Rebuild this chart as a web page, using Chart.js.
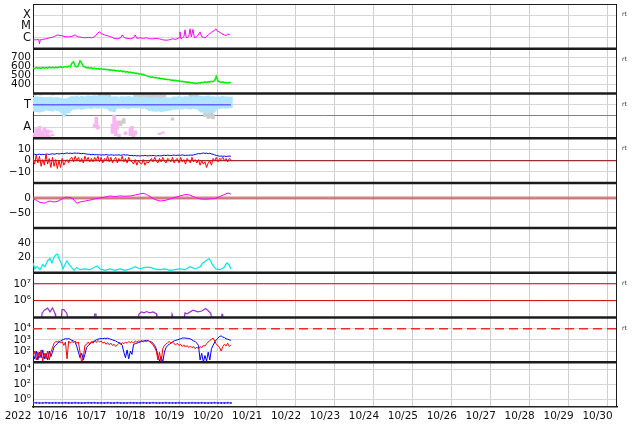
<!DOCTYPE html>
<html><head><meta charset="utf-8">
<script src="https://cdn.jsdelivr.net/npm/chart.js@4"></script>
<style>html,body{margin:0;padding:0;background:#fff}canvas{display:block}</style>
</head><body>
<canvas id="c" width="634" height="424" style="width:634px;height:424px"></canvas>
<script>
// ---------- categories / tick labels ----------
const dayLabels = ['10/16','10/17','10/18','10/19','10/20','10/21','10/22','10/23','10/24','10/25','10/26','10/27','10/28','10/29','10/30'];
const yearLabel = '2022';
const panelTags = ['rt','rt','rt','rt','','','rt','rt',''];

// ---------- panel 1: X-ray flux (log10) ----------
const xrayHours = [0,2,3.5,4,4.5,6,8,10,12,14,
 15,16,18,20,22,24,26,27,28,30,
 32,34,36,38,40,41,42,44,46,48,
 50,52,54,55,56,58,60,62,63,64,
 66,68,70,72,74,76,78,80,82,84,
 86,88,90,90.6,91.3,93,93.7,94.5,96,96.8,
 97.6,98.6,99.5,101,103,104,106,108,110,111.5,
 112.8,113.5,114.7,116.5,118,119,120,121.4];
const xrayLog = [-6.20,-6.20,-6.16,-6.56,-6.20,-6.16,-6.11,-6.02,-5.98,-5.84,
 -5.76,-5.80,-5.84,-5.93,-5.93,-5.89,-5.76,-5.89,-5.93,-5.98,
 -6.02,-5.98,-6.02,-5.93,-5.58,-5.49,-5.62,-5.76,-5.84,-5.93,
 -6.07,-6.11,-6.02,-5.76,-5.98,-6.07,-6.11,-6.02,-5.76,-6.07,
 -6.02,-6.07,-6.02,-6.11,-6.11,-6.07,-6.11,-6.20,-6.24,-6.20,
 -6.11,-6.16,-6.02,-5.49,-6.11,-5.93,-5.31,-6.02,-5.93,-5.22,
 -5.93,-5.27,-6.02,-5.93,-5.49,-5.93,-6.02,-5.76,-5.53,-5.40,
 -5.22,-5.40,-5.49,-5.67,-5.76,-5.84,-5.67,-5.76];

// ---------- panel 2: solar wind speed (hourly) ----------
const speedKms = [585,578,590,582,588,580,592,584,590,583,
 595,586,592,585,596,588,594,600,590,598,
 603,595,606,598,640,655,605,598,612,665,
 640,605,596,588,592,582,588,578,584,575,
 580,572,578,568,574,565,570,562,566,558,
 562,552,558,548,556,545,550,540,546,535,
 540,530,535,525,528,518,522,512,515,505,
 500,492,488,482,485,476,478,470,474,465,
 468,460,462,455,458,450,452,445,448,440,
 442,435,438,430,432,425,428,420,422,415,
 418,412,420,415,425,420,430,424,432,428,
 438,432,445,492,440,432,425,428,420,424,
 418,422,420];

// ---------- panel 3: T / A ----------
const tBandHi = [3.70,3.62,3.75,3.66,3.72,3.58,3.70,3.64,3.55,3.68,
 3.60,3.72,3.62,3.58,3.70,3.65,3.55,3.62,3.50,3.58,
 3.45,3.55,3.62,3.70,3.76,3.68,3.74,3.80,3.70,3.66,
 3.78,3.72,3.68,3.75,3.82,3.74,3.80,3.78,3.84,3.72,
 3.80,3.76,3.70,3.82,3.74,3.78,3.70,3.72,3.66,3.74,
 3.68,3.76,3.70,3.64,3.72,3.76,3.68,3.74,3.70,3.78,
 3.66,3.72,3.70,3.64,3.74,3.68,3.62,3.70,3.66,3.72,
 3.60,3.68,3.62,3.56,3.64,3.58,3.66,3.60,3.55,3.62,
 3.58,3.66,3.60,3.64,3.56,3.62,3.68,3.74,3.66,3.72,
 3.78,3.70,3.64,3.72,3.76,3.68,3.74,3.70,3.62,3.76,
 3.72,3.66,3.74,3.80,3.72,3.76,3.70,3.78,3.82,3.74,
 3.70,3.76,3.68,3.72,3.66,3.74,3.70,3.78,3.72,3.68,
 3.74,3.70,3.72];
const tBandLo = [2.40,2.50,2.35,2.45,2.30,2.42,2.38,2.55,2.48,2.60,
 2.45,2.52,2.40,2.58,2.50,2.44,2.56,2.36,2.20,1.95,
 2.10,2.30,2.25,2.45,2.60,2.55,2.68,2.58,2.62,2.70,
 2.56,2.64,2.60,2.72,2.66,2.70,2.62,2.74,2.68,2.76,
 2.64,2.72,2.70,2.66,2.74,2.62,2.70,2.50,2.40,2.55,
 2.35,2.60,2.68,2.72,2.64,2.70,2.74,2.66,2.72,2.62,
 2.70,2.76,2.68,2.72,2.66,2.74,2.70,2.62,2.68,2.72,
 2.60,2.55,2.45,2.52,2.40,2.48,2.38,2.50,2.44,2.36,
 2.46,2.40,2.52,2.45,2.55,2.48,2.58,2.62,2.55,2.66,
 2.60,2.68,2.58,2.64,2.70,2.62,2.66,2.58,2.64,2.70,
 2.60,2.66,2.55,2.40,2.30,2.42,2.25,2.35,2.20,2.30,
 2.45,2.28,2.38,2.55,2.68,2.62,2.72,2.66,2.70,2.64,
 2.72,2.68,2.70];
const tLineHours = [0,122];
const tLineValue = [3,3];
const grayHours = [0,1,2,4,5,6,8,10,12,41,43,45,47,54,56,63,65,67,69,71,73,75,77,79,81,86,97,99,101,106,108,110,111];
const grayLo = [0.05,3.82,0.05,0.10,3.85,0.05,0.05,0.10,3.85,3.50,3.40,3.50,3.45,1.10,1.30,3.60,3.55,3.60,3.50,3.55,3.60,3.50,3.55,3.60,3.50,1.60,3.30,3.40,3.50,1.90,1.75,1.80,1.70];
const grayHi = [0.35,3.98,0.25,0.30,3.98,0.30,0.20,0.30,3.98,3.95,3.92,3.95,3.90,1.60,1.80,3.95,3.92,3.96,3.93,3.95,3.92,3.95,3.90,3.95,3.92,1.85,3.95,3.92,3.95,2.50,2.40,2.60,2.20];
const pinkHours = [1,2,3,4,5,6,7,8,9,10,11,12,38,39,40,49,50,51,52,53,57,60,61,62,63,78,80];
const pinkLo = [0.10,0.20,0.10,0.30,0.10,0.20,0.40,0.10,0.20,0.10,0.50,0.20,0.90,1.00,0.80,0.40,0.60,0.20,0.80,0.10,0.30,0.20,0.50,0.10,0.30,0.30,0.40];
const pinkHi = [0.50,0.90,0.60,1.10,0.70,0.50,1.00,0.40,0.80,0.30,0.70,0.40,1.30,1.90,1.20,1.30,2.10,0.90,1.60,0.40,0.60,0.90,1.10,0.50,0.70,0.50,0.60];

// ---------- panel 4: Bt / Bz (hourly, nT) ----------
const btNt = [5.5,5.8,5.3,5.6,5.9,5.4,5.7,5.5,5.8,6.0,5.6,5.9,6.2,5.8,6.1,6.4,6.0,6.3,6.5,6.2,
 6.6,6.9,6.5,6.8,6.4,6.7,6.9,6.6,6.8,6.5,6.3,6.6,6.2,6.0,5.8,5.6,5.4,5.7,5.3,5.5,
 5.2,5.4,5.0,5.3,5.1,5.5,5.2,5.0,5.3,5.1,4.9,5.2,5.0,5.3,4.8,5.1,5.4,5.0,5.2,4.9,
 4.6,4.8,4.4,4.7,4.3,4.5,4.2,4.6,4.4,4.8,4.5,4.3,4.6,4.4,4.7,4.5,4.2,4.6,4.4,4.3,
 4.7,4.9,4.6,5.0,4.8,4.5,4.9,5.1,4.7,4.9,5.0,4.8,5.2,4.9,4.7,5.0,4.8,5.1,4.9,5.2,
 5.6,6.0,6.4,6.2,6.6,6.9,6.5,6.8,6.3,6.7,6.1,5.8,5.2,4.8,4.4,4.0,4.2,3.9,4.1,3.8,
 4.0,4.2,3.9];
const bzNt = [2,-3,5,-2,4,-5,1,-4,6,-3,2,-6,3,
 -5,1,-7,0,-6,2,-4,-1,
 1,-2,2,
 3,-1,4,0,3,-1,2,-2,4,0,3,-1,2,-1,3,
 0,4,-1,3,-2,2,0,4,-1,3,-2,1,3,-2,2,0,4,-1,2,-2,3,0,
 -1,-3,1,-4,0,-2,-3,1,-4,-1,-2,0,
 2,-1,3,0,-2,2,-1,3,0,-2,2,1,-1,3,-2,1,
 2,-2,3,-1,1,-3,2,0,-2,3,-1,1,
 -2,1,-4,0,-3,-1,-6,-2,0,-4,
 2,0,3,-1,2,1,3,0,2,-1,2,1];
const bzZero = [0];

// ---------- panel 5 ----------
const dstHours = [0,2,4.3,7.4,9,10.5,12.3,14.8,18,20,
 22.8,24.7,27,29,32,35,38,41,44,47.5,
 50.5,53.6,56.7,60,63,66,67.8,70,72.7,75.2,
 78.3,81.4,84.5,87.5,90.6,94.3,96.8,100,103,106,
 109,112,115.3,118.4,120.2,122];
const dstNt = [-4,-7,-15,-17,-12,-10,-13,-12,-3,3,
 2,-3,-18,-13,-10,-7,-3,0,3,7,
 5,7,6,7,10,14,16,12,3,-5,
 -10,-8,-3,2,7,12,10,2,-3,-4,
 -3,-2,5,13,17,13];
const dstZero = [0];

// ---------- panel 6 ----------
const cyanHours = [0,1.2,2.5,4.3,6,7.4,9,10.5,11.7,13,
 14.2,15.1,16,17.3,18.5,19.7,21,22.2,23.4,25.3,
 27,29,32,35,37.6,39.5,41.3,44.4,47.5,50.5,
 53.6,56.7,60,63,66,69,72,75,78.3,81.4,
 84.5,87.5,90.6,93.7,96.8,100,103,104.8,106.6,108.5,
 109.7,111,112.8,115.3,117.7,119.6,120.8,122];
const cyanValues = [13,5,8,4,11,8,16,19,13,21,
 24,25,19,13,5,11,16,11,8,3,
 7,4,5,4,7,9,5,3,5,3,
 5,3,5,8,5,7,7,5,4,5,
 3,4,5,4,8,5,8,13,16,19,
 15,9,5,4,7,13,11,5];

// ---------- panel 7: electrons (log10) ----------
const elecHours = [5,5.5,7,9,10.5,12,13.6,14,
 17.5,17.9,19,20.9,21.3,
 37.8,38,38.8,39,
 65,65.4,67,68.5,70,72,74,76,76.4,
 85.5,85.7,86.2,86.4,
 93.3,93.7,95,98.6,101.7,104,106.4,108,109.6,110,
 116.2,116.4,116.8,117];
const elecLog = [5.0,5.24,5.43,5.55,5.33,5.56,5.24,5.0,
 5.0,5.47,5.47,5.24,5.0,
 5.0,5.2,5.2,5.0,
 5.0,5.22,5.33,5.27,5.35,5.27,5.33,5.22,5.0,
 5.0,5.2,5.2,5.0,
 5.0,5.27,5.22,5.43,5.33,5.38,5.53,5.40,5.24,5.0,
 5.0,5.18,5.18,5.0];
const elecAlertLog = [7,6];

// ---------- panel 8: protons (log10, hourly) ----------
const protonBlueLog = [1.8,1.3,2.0,1.2,1.9,1.4,2.1,1.3,1.8,1.2,2.0,1.5,1.9,
 2.36,2.5,2.65,2.8,2.9,3.0,3.05,3.1,3.08,3.12,
 3.05,2.95,2.9,2.8,2.4,1.9,1.4,1.8,1.2,1.7,
 2.3,2.5,2.6,2.75,2.85,2.9,3.0,3.05,3.1,3.12,
 3.1,3.14,3.12,3.15,3.1,3.05,3.0,2.95,2.9,2.8,
 2.75,2.7,2.5,1.9,1.4,2.1,1.3,2.0,1.7,2.6,
 2.65,2.7,2.75,2.8,2.85,2.9,2.92,2.95,2.92,2.85,
 2.8,2.7,2.5,2.2,1.6,1.1,1.5,1.0,1.9,2.3,
 2.5,2.6,2.7,2.8,2.9,2.95,3.0,3.05,3.1,3.15,
 3.17,3.15,3.14,3.12,3.08,3.0,2.9,2.85,2.7,2.5,
 1.2,1.8,1.0,1.6,1.1,1.9,1.2,2.2,2.5,2.8,
 3.0,3.15,3.3,3.35,3.25,3.2,3.1,3.05,3.0,2.95];
const protonRedLog = [1.5,2.0,1.2,1.9,1.4,2.1,1.1,1.8,1.3,2.0,1.2,1.9,2.3,
 2.7,2.85,2.8,2.9,2.7,2.85,2.5,2.8,1.3,2.9,
 2.7,2.85,2.75,2.9,2.7,2.8,1.9,1.0,1.4,2.5,
 2.6,2.8,2.6,2.85,2.7,2.9,2.75,2.95,2.8,2.9,
 2.7,2.8,2.6,2.75,2.55,2.7,2.5,2.6,2.4,2.55,
 2.7,2.6,2.75,2.65,2.8,2.7,2.85,2.75,2.85,2.7,
 2.9,2.8,2.9,2.85,2.95,2.8,2.9,2.85,2.95,2.8,
 2.7,2.55,2.3,2.0,1.2,1.9,1.0,2.2,2.5,2.6,
 2.75,2.85,2.7,2.8,2.65,2.55,2.7,2.5,2.6,2.4,
 2.55,2.35,2.5,2.3,2.45,2.3,2.4,2.2,2.35,2.2,
 2.4,2.3,2.5,2.45,2.65,2.8,2.95,3.05,3.15,2.9,
 2.6,2.5,2.3,2.0,2.4,2.6,2.45,2.7,2.4,2.55];
const protonAlertLog = [4];

// ---------- panel 9 (log10, every 2 h) ----------
const bottomLog = [-0.45,-0.44,-0.46,-0.45,-0.43,-0.45,-0.46,-0.44,-0.45,-0.45,
 -0.44,-0.46,-0.45,-0.44,-0.45,-0.46,-0.45,-0.43,-0.45,-0.44,
 -0.46,-0.45,-0.45,-0.44,-0.46,-0.45,-0.44,-0.45,-0.46,-0.45,
 -0.44,-0.45,-0.45,-0.46,-0.44,-0.45,-0.45,-0.43,-0.45,-0.46,
 -0.45,-0.44,-0.45,-0.46,-0.45,-0.44,-0.45,-0.45,-0.46,-0.44,
 -0.45,-0.45,-0.44,-0.46,-0.45,-0.45,-0.44,-0.45,-0.46,-0.45,
 -0.44,-0.45];

// ---------- helpers ----------
const AXIS_END = dayLabels.length * 24;
const pairs = (xs, ys) => xs.map((x, i) => ({x, y: ys[i]}));
const hourly = (ys, step = 1) => ys.map((y, i) => ({x: i * step, y}));
const hourlyRanges = (lo, hi) => lo.map((l, i) => ({x: i, y: [l, hi[i]]}));
const ranges = (xs, lo, hi) => xs.map((x, i) => ({x, y: [lo[i], hi[i]]}));
const level = v => [{x: 0, y: v}, {x: AXIS_END, y: v}];
const FONT = "'DejaVu Sans', sans-serif";
Chart.defaults.font.family = FONT;

function line(axis, data, color, width, extra) {
  return Object.assign({type: 'line', yAxisID: axis, data, borderColor: color, backgroundColor: color,
    borderWidth: width, pointRadius: 0, tension: 0, fill: false, spanGaps: false}, extra || {});
}
function bars(axis, data, color, order) {
  return {type: 'bar', yAxisID: axis, data, backgroundColor: color, borderWidth: 0,
    grouped: false, barPercentage: 2.2, categoryPercentage: 1, order};
}

const datasets = [
  line('p1', pairs(xrayHours, xrayLog), '#ff00ff', 1, {order: 1}),
  line('p2', hourly(speedKms), '#00ee00', 1.5, {order: 1}),
  line('p3', pairs(tLineHours, tLineValue), '#6464ff', 1.5, {order: 1}),
  bars('p3', ranges(pinkHours, pinkLo, pinkHi), '#f6b6f0', 2),
  bars('p3', hourlyRanges(tBandLo, tBandHi), '#b0e4ff', 3),
  bars('p3', ranges(grayHours, grayLo, grayHi), '#cdcdcd', 4),
  line('p4', hourly(bzNt), '#ff0000', 1, {order: 1}),
  line('p4', hourly(btNt), '#0000ff', 1, {order: 2}),
  line('p4', level(bzZero[0]), '#8a0000', 1, {order: 3}),
  line('p5', pairs(dstHours, dstNt), '#ff00ff', 1, {order: 1}),
  line('p5', level(dstZero[0]), 'rgba(200,90,90,0.75)', 3, {order: 2}),
  line('p6', pairs(cyanHours, cyanValues), '#00e6e6', 1.2, {order: 1}),
  line('p7', pairs(elecHours, elecLog), '#9a30d0', 1.2, {order: 1}),
  line('p7', level(elecAlertLog[0]), '#d40000', 1, {order: 2}),
  line('p7', level(elecAlertLog[1]), '#d40000', 1, {order: 2}),
  line('p8', hourly(protonRedLog), '#ff0000', 1, {order: 1}),
  line('p8', hourly(protonBlueLog), '#0000ff', 1, {order: 2}),
  line('p8', level(protonAlertLog[0]), '#e53030', 1.5, {order: 3, borderDash: [9, 5]}),
  line('p9', hourly(bottomLog, 2), '#2a2aff', 1, {order: 1, pointRadius: 1, pointBorderWidth: 0}),
];

function yAxis(min, max, ticks, labels, size, gridFn) {
  return {
    type: 'linear', position: 'left', stack: 'panels', stackWeight: 1, min, max, offset: false, stacked: false,
    afterBuildTicks: s => { s.ticks = ticks.map(v => ({value: v})); },
    afterFit: s => { s.width = 33; s.paddingTop = 0; s.paddingBottom = 0; },
    ticks: {autoSkip: false, padding: 2, color: '#111', font: {family: FONT, size},
      callback: (v, i) => labels[i]},
    grid: {drawTicks: false, color: gridFn || '#d6d6d6', lineWidth: 1},
    border: {display: true, color: '#222', width: 1}
  };
}

const scales = {
  x: {
    type: 'linear', position: 'bottom', min: 0, max: AXIS_END, offset: false,
    afterBuildTicks: s => { s.ticks = Array.from({length: dayLabels.length * 2 + 1}, (_, i) => ({value: i * 12})); },
    afterFit: s => { s.height = 17; s.paddingLeft = 0; s.paddingRight = 0; },
    ticks: {autoSkip: false, maxRotation: 0, minRotation: 0, padding: 3, color: '#111',
      font: {family: FONT, size: 10.5},
      callback: v => (v % 24 === 12 ? dayLabels[(v - 12) / 24] : '')},
    grid: {drawTicks: false, lineWidth: 1,
      color: c => (c.tick && c.tick.value % 24 === 0 ? '#cfcfcf' : 'rgba(0,0,0,0)')},
    border: {display: true, color: '#222', width: 1.5}
  },
  p9: yAxis(-1, 5, [0, 2, 4], ['10⁰', '10²', '10⁴'], 10.5),
  p8: yAxis(1, 5, [2, 3, 4], ['10²', '10³', '10⁴'], 10.5),
  p7: yAxis(5, 7.66, [6, 7], ['10⁶', '10⁷'], 10.5),
  p6: yAxis(0, 60, [20, 40], ['20', '40'], 10.5),
  p5: yAxis(-100, 50, [-50, 0], ['\u221250', '0'], 10.5),
  p4: yAxis(-20, 20, [-10, 0, 10], ['\u221210', '0', '10'], 10.5),
  p3: yAxis(0, 4, [1, 2, 3], ['A', '', 'T'], 11.5,
        c => (c.tick && c.tick.value === 2 ? '#808080' : '#d6d6d6')),
  p2: yAxis(300, 800, [400, 500, 600, 700], ['400', '500', '600', '700'], 10.5),
  p1: yAxis(-7, -3, [-6, -5, -4], ['C', 'M', 'X'], 11.5),
};
const panelIds = ['p1','p2','p3','p4','p5','p6','p7','p8','p9'];

const framePlugin = {
  id: 'frame',
  afterDatasetsDraw(chart) {
    const {ctx, chartArea: a} = chart;
    ctx.save();
    ctx.strokeStyle = '#1c1c1c';
    ctx.lineWidth = 1;
    ctx.beginPath();
    ctx.moveTo(a.left, a.top + 0.5); ctx.lineTo(a.right, a.top + 0.5);
    ctx.moveTo(a.right - 0.5, a.top); ctx.lineTo(a.right - 0.5, a.bottom);
    ctx.stroke();
    ctx.lineWidth = 2.5;
    panelIds.slice(1).forEach(id => {
      const s = chart.scales[id];
      ctx.beginPath(); ctx.moveTo(a.left, s.top); ctx.lineTo(a.right, s.top); ctx.stroke();
    });
    ctx.restore();
  },
  afterDraw(chart) {
    const {ctx, chartArea: a} = chart;
    ctx.save();
    ctx.fillStyle = '#333';
    ctx.font = "6px " + FONT;
    ctx.textAlign = 'left'; ctx.textBaseline = 'middle';
    panelIds.forEach((id, i) => {
      if (panelTags[i]) ctx.fillText(panelTags[i], a.right + 5, chart.scales[id].top + 10.5);
    });
    const x = chart.scales.x;
    ctx.fillStyle = '#111';
    ctx.font = "10.5px " + FONT;
    ctx.textAlign = 'center'; ctx.textBaseline = 'top';
    ctx.fillText(yearLabel, 18, x.top + 4.5);
    ctx.restore();
  }
};

new Chart(document.getElementById('c'), {
  type: 'line',
  data: {datasets},
  options: {
    responsive: false, animation: false, devicePixelRatio: 1, events: [],
    layout: {padding: {top: 2, right: 17, bottom: 0, left: 0}},
    plugins: {legend: {display: false}, tooltip: {enabled: false}},
    scales
  },
  plugins: [framePlugin]
});
</script>
</body></html>
